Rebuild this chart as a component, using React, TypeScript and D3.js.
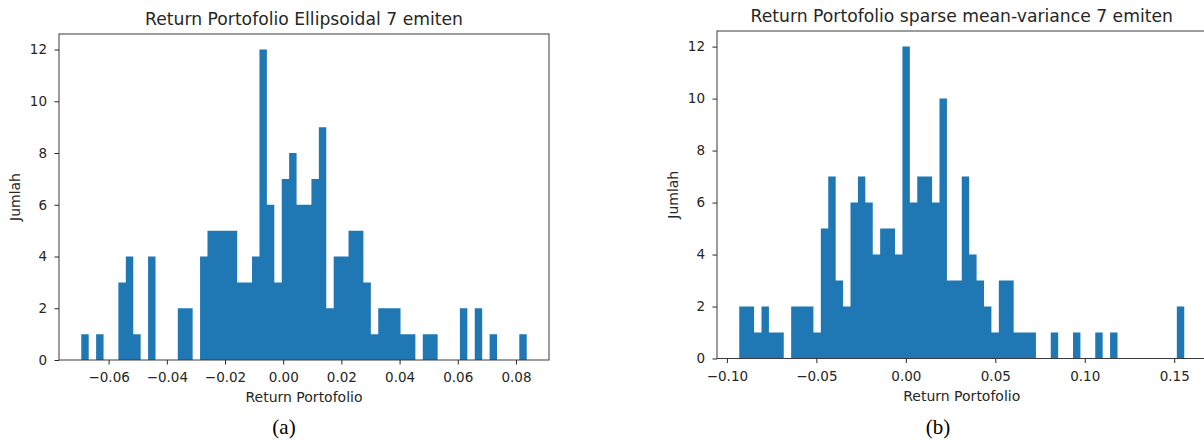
import * as d3 from "d3";
import { useEffect, useRef } from "react";

// histogram counts per bin (60 bins each)
const countsEllipsoidal = [
  1, 0, 1, 0, 0, 3, 4, 1, 0, 4,
  0, 0, 0, 2, 2, 0, 4, 5, 5, 5,
  5, 3, 3, 4, 12, 6, 3, 7, 8, 6,
  6, 7, 9, 2, 4, 4, 5, 5, 3, 1,
  2, 2, 2, 1, 1, 0, 1, 1, 0, 0,
  0, 2, 0, 2, 0, 1, 0, 0, 0, 1,
];
const countsSparse = [
  2, 2, 1, 2, 1, 1, 0, 2, 2, 2,
  1, 5, 7, 3, 2, 6, 7, 6, 4, 5,
  5, 4, 12, 6, 7, 7, 6, 10, 3, 3,
  7, 4, 3, 2, 1, 3, 3, 1, 1, 1,
  0, 0, 1, 0, 0, 1, 0, 0, 1, 0,
  1, 0, 0, 0, 0, 0, 0, 0, 0, 2,
];

// min / max return of each sample (outer bin edges)
const extentEllipsoidal = [-0.0694, 0.0837];
const extentSparse = [-0.0931, 0.1556];

const xTicksEllipsoidal = [-0.06, -0.04, -0.02, 0, 0.02, 0.04, 0.06, 0.08];
const xTicksSparse = [-0.1, -0.05, 0, 0.05, 0.1, 0.15];
const yTicks = [0, 2, 4, 6, 8, 10, 12];

const titleEllipsoidal = "Return Portofolio Ellipsoidal 7 emiten";
const titleSparse = "Return Portofolio sparse mean-variance 7 emiten";

const BLUE = "#1f77b4";
const INK = "#262626";
const FONT = "DejaVu Sans";

type Frame = { left: number; right: number; top: number; bottom: number };

function Histogram({
  counts,
  extent,
  xTicks,
  title,
  caption,
  frame,
  captionX,
}: {
  counts: number[];
  extent: number[];
  xTicks: number[];
  title: string;
  caption: string;
  frame: Frame;
  captionX: number;
}) {
  const gRef = useRef<SVGGElement>(null);

  useEffect(() => {
    const g = d3.select(gRef.current);
    g.selectAll("*").remove();

    const [lo, hi] = extent;
    const pad = (hi - lo) * 0.05;
    const x = d3
      .scaleLinear()
      .domain([lo - pad, hi + pad])
      .range([frame.left, frame.right]);
    const y = d3.scaleLinear().domain([0, 12.6]).range([frame.bottom, frame.top]);
    const n = counts.length;
    const step = (hi - lo) / n;

    // bins as one stepped area, so equal neighbours have no seams
    const edges = d3.range(n + 1).map((i) => ({
      x0: lo + i * step,
      c: counts[Math.min(i, n - 1)],
    }));
    const area = d3
      .area<{ x0: number; c: number }>()
      .x((d) => x(d.x0))
      .y0(y(0))
      .y1((d) => y(d.c))
      .curve(d3.curveStepAfter);
    g.append("path").attr("d", area(edges)).attr("fill", BLUE);

    // x axis
    const xAxis = d3
      .axisBottom(x)
      .tickValues(xTicks)
      .tickFormat((d) => d3.format(".2f")(d as number))
      .tickSize(4.5)
      .tickPadding(8);
    g.append("g")
      .attr("transform", `translate(0, ${frame.bottom})`)
      .call(xAxis)
      .call((a) => a.select(".domain").remove())
      .call((a) => a.selectAll("line").attr("stroke", INK))
      .selectAll("text")
      .attr("fill", INK)
      .attr("font-family", FONT)
      .attr("font-size", 13.5);

    // y axis
    const yAxis = d3
      .axisLeft(y)
      .tickValues(yTicks)
      .tickFormat((d) => String(d))
      .tickSize(4.5)
      .tickPadding(7.5);
    g.append("g")
      .attr("transform", `translate(${frame.left}, 0)`)
      .call(yAxis)
      .call((a) => a.select(".domain").remove())
      .call((a) => a.selectAll("line").attr("stroke", INK))
      .selectAll("text")
      .attr("fill", INK)
      .attr("font-family", FONT)
      .attr("font-size", 13.5);

    // frame (spines)
    g.append("rect")
      .attr("x", frame.left)
      .attr("y", frame.top)
      .attr("width", frame.right - frame.left)
      .attr("height", frame.bottom - frame.top)
      .attr("fill", "none")
      .attr("stroke", "#3a3a3a")
      .attr("stroke-width", 1);

    const midX = (frame.left + frame.right) / 2;
    const midY = (frame.top + frame.bottom) / 2;

    // title
    g.append("text")
      .attr("x", midX)
      .attr("y", frame.top - 9)
      .attr("text-anchor", "middle")
      .attr("font-family", FONT)
      .attr("font-size", 17.2)
      .attr("fill", INK)
      .text(title);

    // x label
    g.append("text")
      .attr("x", midX)
      .attr("y", frame.bottom + 42)
      .attr("text-anchor", "middle")
      .attr("font-family", FONT)
      .attr("font-size", 14)
      .attr("fill", INK)
      .text("Return Portofolio");

    // y label
    g.append("text")
      .attr("transform", `translate(${frame.left - 39}, ${midY}) rotate(-90)`)
      .attr("text-anchor", "middle")
      .attr("font-family", FONT)
      .attr("font-size", 14)
      .attr("fill", INK)
      .text("Jumlah");

    // caption
    g.append("text")
      .attr("x", captionX)
      .attr("y", 434)
      .attr("text-anchor", "middle")
      .attr("font-family", "Liberation Serif")
      .attr("font-size", 21)
      .attr("fill", "#000")
      .text(caption);
  }, [counts, extent, xTicks, title, caption, frame, captionX]);

  return <g ref={gRef} />;
}

const frameA: Frame = { left: 59, right: 549, top: 34, bottom: 360 };
const frameB: Frame = { left: 717, right: 1206.5, top: 31, bottom: 358.5 };

export default function App() {
  return (
    <svg
      width={1204}
      height={440}
      style={{ position: "absolute", left: 0, top: 0, background: "#fff" }}
    >
      <Histogram
        counts={countsEllipsoidal}
        extent={extentEllipsoidal}
        xTicks={xTicksEllipsoidal}
        title={titleEllipsoidal}
        caption="(a)"
        frame={frameA}
        captionX={284}
      />
      <Histogram
        counts={countsSparse}
        extent={extentSparse}
        xTicks={xTicksSparse}
        title={titleSparse}
        caption="(b)"
        frame={frameB}
        captionX={938}
      />
    </svg>
  );
}
